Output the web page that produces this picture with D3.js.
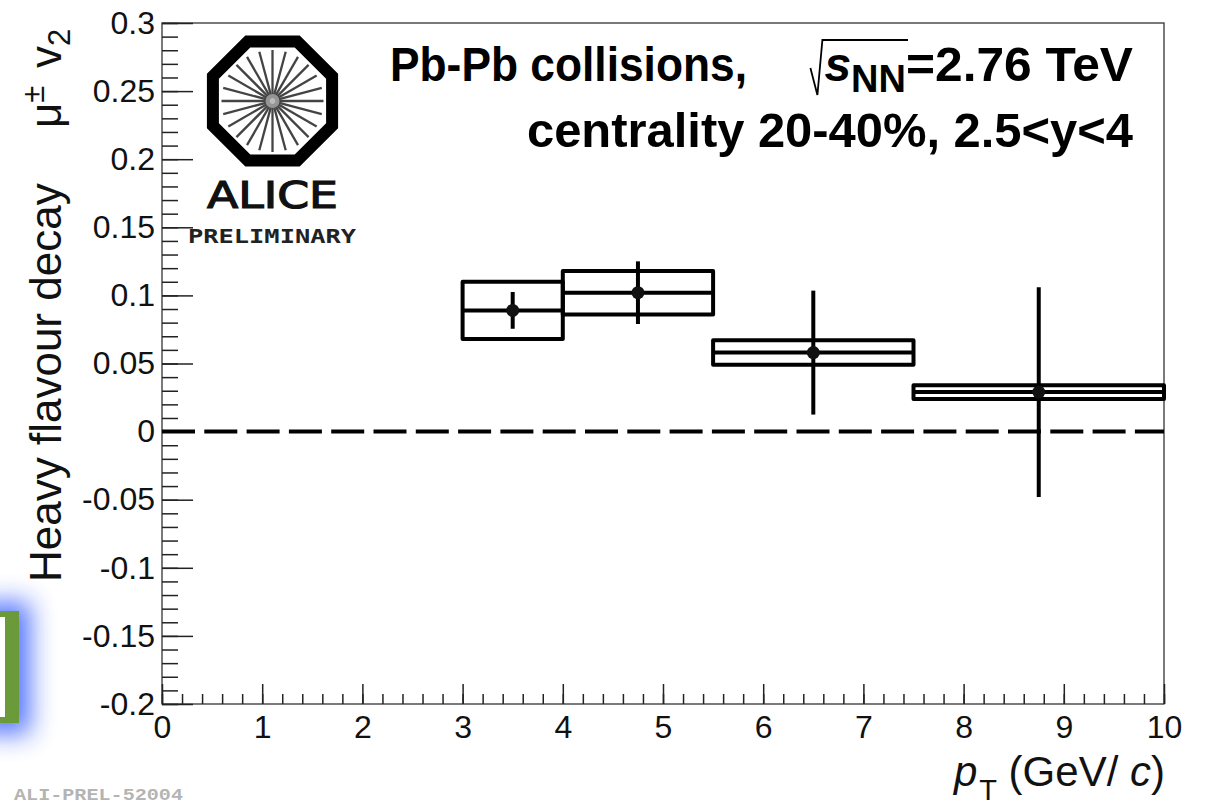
<!DOCTYPE html>
<html><head><meta charset="utf-8">
<script src="https://cdn.jsdelivr.net/npm/d3@7"></script>
<style>body{margin:0;background:#fff} svg{display:block}</style>
</head><body>
<svg id="c" width="1209" height="805"></svg>
<script>
// ---- data ----
const ptCenters = [3.5, 4.75, 6.5, 8.75];
const v2Values = [0.089, 0.102, 0.058, 0.029];
const statErrors = [0.0135, 0.023, 0.0455, 0.077];
const binLow = [3, 4, 5.5, 7.5];
const binHigh = [4, 5.5, 7.5, 10];
const sysErrors = [0.021, 0.016, 0.009, 0.005];
const yTickValues = [-0.2, -0.15, -0.1, -0.05, 0, 0.05, 0.1, 0.15, 0.2, 0.25, 0.3];
const yTickLabels = ["-0.2", "-0.15", "-0.1", "-0.05", "0", "0.05", "0.1", "0.15", "0.2", "0.25", "0.3"];
const xTickValues = [0, 1, 2, 3, 4, 5, 6, 7, 8, 9, 10];
const xTickLabels = ["0", "1", "2", "3", "4", "5", "6", "7", "8", "9", "10"];

const svg = d3.select("#c");
const FONT = "'Liberation Sans', Arial, Helvetica, sans-serif";
const L = 162, R = 1164, T = 23, B = 704;
const x = d3.scaleLinear().domain([0, 10]).range([L, R]);
const y = d3.scaleLinear().domain([-0.2, 0.3]).range([B, T]);

// ---- background artifact (bottom-left) ----
const defs = svg.append("defs");
const f = defs.append("filter").attr("id", "glow").attr("x", "-100%").attr("y", "-50%").attr("width", "300%").attr("height", "200%");
f.append("feGaussianBlur").attr("stdDeviation", 13);
svg.append("rect").attr("x", -20).attr("y", 602).attr("width", 50).attr("height", 132)
  .attr("fill", "#4a6cff").attr("opacity", 0.95).attr("filter", "url(#glow)");
svg.append("rect").attr("x", -10).attr("y", 611).attr("width", 29).attr("height", 112).attr("fill", "#6a9a3a");
svg.append("rect").attr("x", -10).attr("y", 617).attr("width", 15).attr("height", 100).attr("fill", "#ffffff");

// ---- frame ----
svg.append("rect").attr("x", L).attr("y", T).attr("width", R - L).attr("height", B - T)
  .attr("fill", "none").attr("stroke", "#333").attr("stroke-width", 1.3);

// ---- axes ----
const yMinor = d3.range(-0.2, 0.3001, 0.01).map(v => +v.toFixed(3));
const xMinor = d3.range(0, 10.001, 0.2).map(v => +v.toFixed(2));

const gyMin = svg.append("g").attr("transform", `translate(${L},0)`)
  .call(d3.axisLeft(y).tickValues(yMinor).tickSizeInner(-16).tickSizeOuter(0).tickFormat(""));
const gy = svg.append("g").attr("transform", `translate(${L},0)`)
  .call(d3.axisLeft(y).tickValues(yTickValues).tickSizeInner(-31).tickSizeOuter(0).tickPadding(7)
    .tickFormat((d, i) => yTickLabels[i]));
const gxMin = svg.append("g").attr("transform", `translate(0,${B})`)
  .call(d3.axisBottom(x).tickValues(xMinor).tickSizeInner(-10).tickSizeOuter(0).tickFormat(""));
const gx = svg.append("g").attr("transform", `translate(0,${B})`)
  .call(d3.axisBottom(x).tickValues(xTickValues).tickSizeInner(-20).tickSizeOuter(0).tickPadding(11)
    .tickFormat((d, i) => xTickLabels[i]));
[gyMin, gy, gxMin, gx].forEach(g => {
  g.select(".domain").remove();
  g.selectAll(".tick line").attr("stroke", "#222").attr("stroke-width", 1.5);
  g.selectAll("text").attr("font-family", FONT).attr("font-size", 32).attr("fill", "#111");
});

// ---- zero dashed line ----
svg.append("line").attr("x1", x(0)).attr("x2", x(10)).attr("y1", y(0)).attr("y2", y(0))
  .attr("stroke", "#000").attr("stroke-width", 4).attr("stroke-dasharray", "33 9.3");

// ---- data ----
const data = ptCenters.map((p, i) => ({p, v: v2Values[i], s: statErrors[i], lo: binLow[i], hi: binHigh[i], sys: sysErrors[i]}));
const gd = svg.append("g");
gd.selectAll("rect.sys").data(data).join("rect").attr("class", "sys")
  .attr("x", d => x(d.lo)).attr("width", d => x(d.hi) - x(d.lo))
  .attr("y", d => y(d.v + d.sys)).attr("height", d => y(d.v - d.sys) - y(d.v + d.sys))
  .attr("fill", "none").attr("stroke", "#000").attr("stroke-width", 4).attr("stroke-linejoin", "round");
gd.selectAll("line.h").data(data).join("line").attr("class", "h")
  .attr("x1", d => x(d.lo)).attr("x2", d => x(d.hi)).attr("y1", d => y(d.v)).attr("y2", d => y(d.v))
  .attr("stroke", "#000").attr("stroke-width", 4);
gd.selectAll("line.stat").data(data).join("line").attr("class", "stat")
  .attr("x1", d => x(d.p)).attr("x2", d => x(d.p)).attr("y1", d => y(d.v - d.s)).attr("y2", d => y(d.v + d.s))
  .attr("stroke", "#000").attr("stroke-width", 4);
gd.selectAll("circle").data(data).join("circle")
  .attr("cx", d => x(d.p)).attr("cy", d => y(d.v)).attr("r", 6.5).attr("fill", "#111");

// ---- ALICE logo ----
const cx = 272.5, cy = 101;
const logo = svg.append("g");
const Roct = 64.5;
const octPts = d3.range(8).map(k => {
  const a = (22.5 + 45 * k) * Math.PI / 180;
  return [cx + Roct * Math.cos(a), cy + Roct * Math.sin(a)];
});
logo.append("path").attr("d", "M" + octPts.map(p => p.join(",")).join("L") + "Z")
  .attr("fill", "none").attr("stroke", "#000").attr("stroke-width", 12).attr("stroke-linejoin", "miter");
d3.range(24).forEach(k => {
  const a = (k * 15) * Math.PI / 180;
  logo.append("line").attr("x1", cx + 3 * Math.cos(a)).attr("y1", cy + 3 * Math.sin(a))
    .attr("x2", cx + 51 * Math.cos(a)).attr("y2", cy + 51 * Math.sin(a))
    .attr("stroke", "#444").attr("stroke-width", 2.3);
});
logo.append("circle").attr("cx", cx).attr("cy", cy).attr("r", 7).attr("fill", "#aaa").attr("opacity", 0.8);
logo.append("text").attr("x", 207).attr("y", 208).attr("font-family", "'DejaVu Sans', sans-serif")
  .attr("font-size", 37).attr("textLength", 131).attr("lengthAdjust", "spacingAndGlyphs")
  .attr("fill", "#111").attr("stroke", "#111").attr("stroke-width", 1.2).text("ALICE");
logo.append("text").attr("x", 188).attr("y", 243).attr("font-family", "'DejaVu Sans Mono', monospace")
  .attr("font-weight", "bold").attr("font-size", 19).attr("textLength", 168).attr("lengthAdjust", "spacingAndGlyphs")
  .attr("fill", "#222").text("PRELIMINARY");

// ---- title text ----
const TS = 48;
const base1 = 81, base2 = 147;
const t3 = svg.append("text").attr("x", 1133).attr("y", base1).attr("text-anchor", "end")
  .attr("font-family", FONT).attr("font-weight", "bold").attr("font-size", TS)
  .attr("textLength", 227).attr("lengthAdjust", "spacingAndGlyphs").text("=2.76 TeV");
const w3 = 227;
const tNN = svg.append("text").attr("x", 1133 - w3).attr("y", base1 + 11).attr("text-anchor", "end")
  .attr("font-family", FONT).attr("font-weight", "bold").attr("font-size", 38).text("NN");
const wNN = tNN.node().getComputedTextLength();
const tS = svg.append("text").attr("x", 1133 - w3 - wNN).attr("y", base1).attr("text-anchor", "end")
  .attr("font-family", FONT).attr("font-weight", "bold").attr("font-style", "italic").attr("font-size", TS).text("s");
const wS = tS.node().getComputedTextLength();
const sStart = 1133 - w3 - wNN - wS;
svg.append("path")
  .attr("d", `M${sStart - 14},${base1 - 13} L${sStart - 7},${base1 + 14} L${sStart - 2},${base1 - 41} L${1133 - w3 + 2},${base1 - 41}`)
  .attr("fill", "none").attr("stroke", "#000").attr("stroke-width", 1.8);
svg.append("text").attr("x", 390).attr("y", base1)
  .attr("font-family", FONT).attr("font-weight", "bold").attr("font-size", TS)
  .attr("textLength", 357).attr("lengthAdjust", "spacingAndGlyphs").text("Pb-Pb collisions,");
svg.append("text").attr("x", 527).attr("y", base2)
  .attr("font-family", FONT).attr("font-weight", "bold").attr("font-size", TS)
  .attr("textLength", 606).attr("lengthAdjust", "spacingAndGlyphs").text("centrality 20-40%, 2.5<y<4");

// ---- axis titles ----
const ytitle = svg.append("text").attr("transform", "translate(61,582) rotate(-90)")
  .attr("font-family", FONT).attr("font-size", 44).attr("fill", "#111");
ytitle.append("tspan").attr("x", 0).text("Heavy flavour decay");
ytitle.append("tspan").attr("x", 454).text("\u03BC");
ytitle.append("tspan").attr("font-size", 31).attr("dy", -17).text("\u00B1");
ytitle.append("tspan").attr("x", 514).attr("dy", 17).text("v");
ytitle.append("tspan").attr("font-size", 31).attr("dy", 9).text("2");

const xtitle = svg.append("text").attr("x", 1165).attr("y", 786).attr("text-anchor", "end")
  .attr("font-family", FONT).attr("font-size", 42).attr("fill", "#111");
xtitle.append("tspan").attr("font-style", "italic").text("p");
xtitle.append("tspan").attr("font-size", 29).attr("dy", 14).attr("dx", 2).text("T");
xtitle.append("tspan").attr("dy", -14).text("  (GeV/");
xtitle.append("tspan").attr("font-style", "italic").text(" c");
xtitle.append("tspan").text(")");

// ---- footer ----
svg.append("text").attr("x", 14).attr("y", 800).attr("font-family", "'Liberation Mono', 'Courier New', monospace")
  .attr("font-weight", "bold").attr("font-size", 17).attr("textLength", 169).attr("lengthAdjust", "spacingAndGlyphs")
  .attr("fill", "#b4b4b4").text("ALI-PREL-52004");
</script>
</body></html>
